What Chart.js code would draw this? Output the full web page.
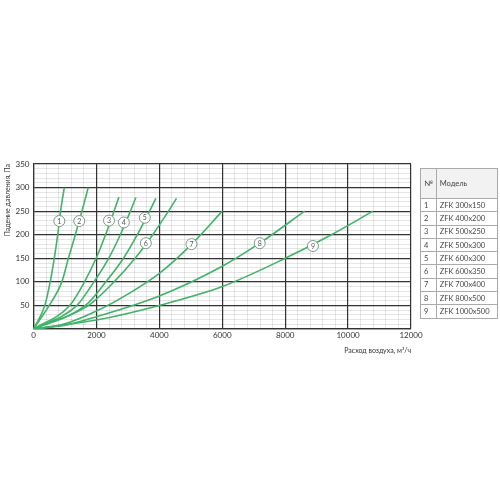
<!DOCTYPE html>
<html>
<head>
<meta charset="utf-8">
<script src="https://cdn.jsdelivr.net/npm/chart.js@4"></script>
<style>
    html, body { margin: 0; padding: 0; background: #fff; }
    #wrap { position: relative; width: 500px; height: 500px; }
    #table {
        position: absolute; left: 420px; top: 168px; width: 78px;
        border-collapse: collapse; font-family: Lato, sans-serif; font-size: 7.5px; color: #444;
    }
    #table td, #table th { border: 1px solid #aaa; padding: 0 3px; height: 12.3px; text-align: left; font-weight: normal; }
    #table th { height: 29px; background: #f2f2f2; }
    #table td:first-child, #table th:first-child { width: 7px; }
</style>
</head>
<body>
<div id="wrap">
    <canvas id="chart" width="500" height="500"></canvas>
    <table id="table"></table>
</div>
<script>
// Curves: flow (m3/h) and pressure drop (Pa)
const curveNames = ["1", "2", "3", "4", "5", "6", "7", "8", "9"];
const models = ["ZFK 300x150", "ZFK 400x200", "ZFK 500x250", "ZFK 500x300", "ZFK 600x300",
                "ZFK 600x350", "ZFK 700x400", "ZFK 800x500", "ZFK 1000x500"];

const flow1 = [0, 360, 530, 660, 770, 860, 980];
const drop1 = [0, 50, 100, 150, 200, 250, 300];
const flow2 = [0, 500, 900, 1110, 1330, 1540, 1740];
const drop2 = [0, 50, 100, 150, 200, 250, 300];
const flow3 = [0, 1150, 1620, 1990, 2290, 2560, 2714];
const drop3 = [0, 50, 100, 150, 200, 250, 280];
const flow4 = [0, 1380, 1920, 2390, 2760, 3080, 3254];
const drop4 = [0, 50, 100, 150, 200, 250, 279];
const flow5 = [0, 1650, 2300, 2860, 3300, 3690, 3889];
const drop5 = [0, 50, 100, 150, 200, 250, 277];
const flow6 = [0, 1750, 2560, 3230, 3790, 4290, 4546];
const drop6 = [0, 50, 100, 150, 200, 250, 277];
const flow7 = [0, 1000, 2000, 3000, 4000, 5000, 6000];
const drop7 = [0, 11, 38, 74, 118, 178, 250];
const flow8 = [0, 1000, 2000, 4000, 6000, 7190, 8620];
const drop8 = [0, 8, 26, 70, 133, 182, 250];
const flow9 = [0, 2000, 4000, 6000, 8000, 9470, 10790];
const drop9 = [0, 19, 50, 90, 150, 200, 250];

// where the numbered circles sit on each curve
const markFlow = [820, 1454, 2400, 2873, 3540, 3571, 5022, 7190, 8883];
const markDrop = [229, 229, 230, 226, 236, 182, 180, 182, 176];

const xTicksMajor = 2000;
const yTicksMajor = 50;

const flows = [flow1, flow2, flow3, flow4, flow5, flow6, flow7, flow8, flow9];
const drops = [drop1, drop2, drop3, drop4, drop5, drop6, drop7, drop8, drop9];

const green = "rgb(66, 178, 104)";

const datasets = flows.map((f, i) => ({
    label: curveNames[i],
    data: f.map((x, j) => ({ x: x, y: drops[i][j] })),
    showLine: true,
    borderColor: green,
    borderWidth: 1.6,
    pointRadius: 0,
    cubicInterpolationMode: "monotone",
}));

// numbered circles on the curves
const curveMarks = {
    id: "curveMarks",
    afterDatasetsDraw(chart) {
        const ctx = chart.ctx;
        const xs = chart.scales.x, ys = chart.scales.y;
        ctx.save();
        markFlow.forEach((f, i) => {
            const px = xs.getPixelForValue(f);
            const py = ys.getPixelForValue(markDrop[i]);
            ctx.beginPath();
            ctx.arc(px, py, 5.5, 0, Math.PI * 2);
            ctx.fillStyle = "#fff";
            ctx.fill();
            ctx.lineWidth = 1;
            ctx.strokeStyle = "#7a9a84";
            ctx.stroke();
            ctx.fillStyle = "#555";
            ctx.font = "7px Lato";
            ctx.textAlign = "center";
            ctx.textBaseline = "middle";
            ctx.fillText(curveNames[i], px, py + 0.5);
        });
        ctx.restore();
    },
};

const minorGrid = "rgba(0, 0, 0, 0.17)";

new Chart(document.getElementById("chart").getContext("2d"), {
    type: "scatter",
    data: { datasets: datasets },
    plugins: [curveMarks],
    options: {
        responsive: false,
        animation: false,
        layout: { padding: { left: 0, right: 89, top: 164, bottom: 145 } },
        plugins: { legend: { display: false }, tooltip: { enabled: false } },
        scales: {
            x: {
                type: "linear",
                min: 0,
                max: 12000,
                afterFit: s => { s.height = 26; },
                ticks: {
                    stepSize: 400,
                    autoSkip: false,
                    maxRotation: 0,
                    padding: 2,
                    color: "#333",
                    font: { family: "Lato", size: 8 },
                    callback: v => (v % xTicksMajor === 0 ? String(v) : ""),
                },
                grid: {
                    color: c => (c.tick.value % xTicksMajor === 0 ? "#333" : minorGrid),
                    lineWidth: c => (c.tick.value % xTicksMajor === 0 ? 1.2 : 0.6),
                    drawTicks: false,
                },
                border: { color: "#333", width: 1.2 },
                title: {
                    display: true,
                    text: "Расход воздуха, м³/ч",
                    align: "end",
                    color: "#333",
                    padding: { top: 1, bottom: 0 },
                    font: { family: "Lato", size: 7 },
                },
            },
            y: {
                type: "linear",
                min: 0,
                max: 350,
                afterFit: s => { s.width = 33.5; },
                ticks: {
                    stepSize: 10,
                    autoSkip: false,
                    padding: 4,
                    color: "#333",
                    font: { family: "Lato", size: 8 },
                    callback: v => (v > 0 && v % yTicksMajor === 0 ? String(v) : ""),
                },
                grid: {
                    color: c => (c.tick.value % yTicksMajor === 0 ? "#333" : minorGrid),
                    lineWidth: c => (c.tick.value % yTicksMajor === 0 ? 1.2 : 0.6),
                    drawTicks: false,
                },
                border: { color: "#333", width: 1.2 },
                title: {
                    display: true,
                    text: "Падение давления, Па",
                    align: "end",
                    color: "#333",
                    padding: { top: 4, bottom: 2 },
                    font: { family: "Lato", size: 7 },
                },
            },
        },
    },
});

// model table
const table = document.getElementById("table");
let html = "<tr><th>№</th><th>Модель</th></tr>";
models.forEach((m, i) => {
    html += "<tr><td>" + curveNames[i] + "</td><td>" + m + "</td></tr>";
});
table.innerHTML = html;
</script>
</body>
</html>
